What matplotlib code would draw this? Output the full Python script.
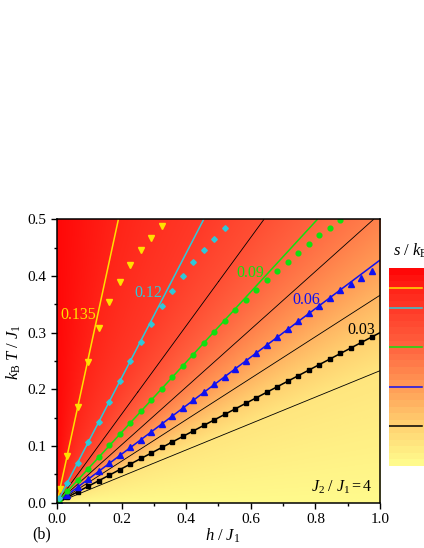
import numpy as np
import matplotlib
matplotlib.use('Agg')
import matplotlib.pyplot as plt
from matplotlib.colors import LinearSegmentedColormap, Normalize
from matplotlib.cm import ScalarMappable
from matplotlib.ticker import MultipleLocator

plt.rcParams['font.family'] = 'Liberation Serif'
plt.rcParams['mathtext.fontset'] = 'custom'
plt.rcParams['mathtext.rm'] = 'Liberation Serif'
plt.rcParams['mathtext.it'] = 'Liberation Serif:italic'

# entropy contour levels and the slope T/h of each (lines through origin)
levels = [0.015, 0.03, 0.045, 0.06, 0.075, 0.09, 0.105, 0.12, 0.135]
slopes = [0.233, 0.30, 0.366, 0.428, 0.51, 0.62, 0.78, 1.10, 2.63]
s_max = 0.15

# highlighted levels and their colours
hl_levels = [0.03, 0.06, 0.09, 0.12, 0.135]
hl_colors = ['#000000', '#1010F0', '#10E010', '#30C8D8', '#FFE000']
hl_labels = ['0.03', '0.06', '0.09', '0.12', '0.135']
label_h = [0.943, 0.771, 0.600, 0.283, 0.065]
label_T = [0.304, 0.3585, 0.405, 0.370, 0.331]

# simulation points
h_yellow = [0.008, 0.0325, 0.065, 0.0975, 0.13, 0.1625, 0.195, 0.2275, 0.26, 0.2925, 0.325]
T_yellow = [0.025, 0.083, 0.168, 0.248, 0.309, 0.354, 0.389, 0.419, 0.445, 0.467, 0.488]

h_cyan = [0.006, 0.0325, 0.065, 0.0975, 0.13, 0.1625, 0.195, 0.2275, 0.26, 0.2925,
          0.325, 0.3575, 0.39, 0.4225, 0.455, 0.4875, 0.52]
T_cyan = [0.008, 0.035, 0.0706, 0.107, 0.143, 0.178, 0.2147, 0.25, 0.283, 0.316,
          0.3465, 0.374, 0.400, 0.424, 0.446, 0.466, 0.485]

h_green = [0.006, 0.0325, 0.065, 0.0975, 0.13, 0.1625, 0.195, 0.2275, 0.26, 0.2925,
           0.325, 0.3575, 0.39, 0.4225, 0.455, 0.4875, 0.52, 0.5525, 0.585, 0.6175,
           0.65, 0.6825, 0.715, 0.7475, 0.78, 0.8125, 0.845, 0.8775]
T_green = [0.004, 0.020, 0.040, 0.060, 0.081, 0.101, 0.121, 0.141, 0.161, 0.181,
           0.201, 0.221, 0.241, 0.261, 0.281, 0.3006, 0.320, 0.3394, 0.3576, 0.3753,
           0.3924, 0.4093, 0.4252, 0.4411, 0.457, 0.4718, 0.4852, 0.4988]

h_blue = [0.006, 0.0325, 0.065, 0.0975, 0.13, 0.1625, 0.195, 0.2275, 0.26, 0.2925,
          0.325, 0.3575, 0.39, 0.4225, 0.455, 0.4875, 0.52, 0.5525, 0.585, 0.6175,
          0.65, 0.6825, 0.715, 0.7475, 0.78, 0.8125, 0.845, 0.8775, 0.91, 0.9425, 0.975]
T_blue = [0.0026, 0.0139, 0.0278, 0.0417, 0.0556, 0.0696, 0.0835, 0.0974, 0.1113, 0.1252,
          0.1392, 0.1531, 0.167, 0.1809, 0.1948, 0.2087, 0.2226, 0.2366, 0.2505, 0.2644,
          0.2783, 0.2922, 0.3061, 0.32, 0.3339, 0.3478, 0.3617, 0.375, 0.386, 0.397, 0.409]

h_black = h_blue
T_black = [0.0018, 0.0098, 0.0195, 0.0293, 0.039, 0.0488, 0.0585, 0.0683, 0.078, 0.0878,
           0.0975, 0.1073, 0.117, 0.1268, 0.1365, 0.1463, 0.156, 0.1658, 0.1755, 0.1853,
           0.195, 0.2048, 0.2145, 0.2243, 0.234, 0.2438, 0.2535, 0.2633, 0.273, 0.2828, 0.2925]

cmap = LinearSegmentedColormap.from_list('yr', [
    (0.0, '#FFFA8C'), (0.2, '#FFD070'), (0.4, '#FF9A55'), (0.6, '#FF6440'),
    (0.8, '#FF3A28'), (0.9, '#FF2418'), (1.0, '#FF0808')])

fig = plt.figure(figsize=(4.24, 5.48), dpi=100)
ax = fig.add_axes([0.1344, 0.0827, 0.7618, 0.5171])

# field s(h, T) depends only on the angle T/h
hh = np.linspace(0, 1, 600)
tt = np.linspace(0, 0.5, 600)
H, T = np.meshgrid(hh, tt)
ang = np.arctan2(T, H)
node_ang = np.concatenate([[0.0], np.arctan(slopes), [np.pi / 2]])
node_s = np.concatenate([[0.0], levels, [s_max]])
S = np.interp(ang, node_ang, node_s)

ax.imshow(S, extent=[0, 1, 0, 0.5], origin='lower', aspect='auto',
          cmap=cmap, vmin=0, vmax=s_max, interpolation='bilinear')

thin = [l for l in levels if l not in hl_levels]
ax.contour(H, T, S, levels=thin, colors='k', linewidths=0.6)
ax.contour(H, T, S, levels=hl_levels, colors=hl_colors, linewidths=1.1)

ms = 3.8
ax.plot(h_black, T_black, ls='none', marker='s', color=hl_colors[0], ms=ms * 0.9)
ax.plot(h_blue, T_blue, ls='none', marker='^', color=hl_colors[1], ms=ms)
ax.plot(h_green, T_green, ls='none', marker='o', color=hl_colors[2], ms=ms * 0.9)
ax.plot(h_cyan, T_cyan, ls='none', marker='D', color=hl_colors[3], ms=ms * 0.75)
ax.plot(h_yellow, T_yellow, ls='none', marker='v', color=hl_colors[4], ms=ms)

for lab, x, y, c in zip(hl_labels, label_h, label_T, hl_colors):
    ax.text(x, y, lab, color=c, fontsize=11.5, ha='center', va='center')

ax.text(0.978, 0.038, r'$J_2\ /\ J_1 = 4$', transform=ax.transAxes,
        ha='right', va='baseline', fontsize=11.5)

ax.set_xlim(0, 1)
ax.set_ylim(0, 0.5)
ax.xaxis.set_major_locator(MultipleLocator(0.2))
ax.xaxis.set_minor_locator(MultipleLocator(0.1))
ax.yaxis.set_major_locator(MultipleLocator(0.1))
ax.yaxis.set_minor_locator(MultipleLocator(0.05))
ax.tick_params(which='major', direction='out', length=4, width=1, labelsize=11)
ax.tick_params(which='minor', direction='out', length=2.5, width=1)
for sp in ax.spines.values():
    sp.set_linewidth(1.1)

ax.set_xlabel(r'$h\ /\ J_1$', fontsize=12)
ax.xaxis.set_label_coords(0.512, -0.086)
ax.set_ylabel(r'$k_\mathrm{B}\ T\ /\ J_1$', fontsize=12)
ax.yaxis.set_label_coords(-0.105, 0.53)

fig.text(41.7 / 424, (548 - 534) / 548, '(b)', ha='center', va='center', fontsize=11.5)

# banded colour bar, running off the right edge
cax = fig.add_axes([389 / 424, 82 / 548, 0.1, 198 / 548])
sm = ScalarMappable(norm=Normalize(0, s_max), cmap=cmap.resampled(30))
cb = fig.colorbar(sm, cax=cax)
cb.outline.set_visible(False)
cax.set_yticks([])
for lev, c in zip(hl_levels, hl_colors):
    cax.axhline(lev, xmin=0.0, xmax=0.79, color=c, lw=1.1)
fig.text(393 / 424, (548 - 251) / 548, r'$s\ /\ k_\mathrm{B}$', ha='left', va='center', fontsize=12)

fig.savefig('out.png', dpi=100)
